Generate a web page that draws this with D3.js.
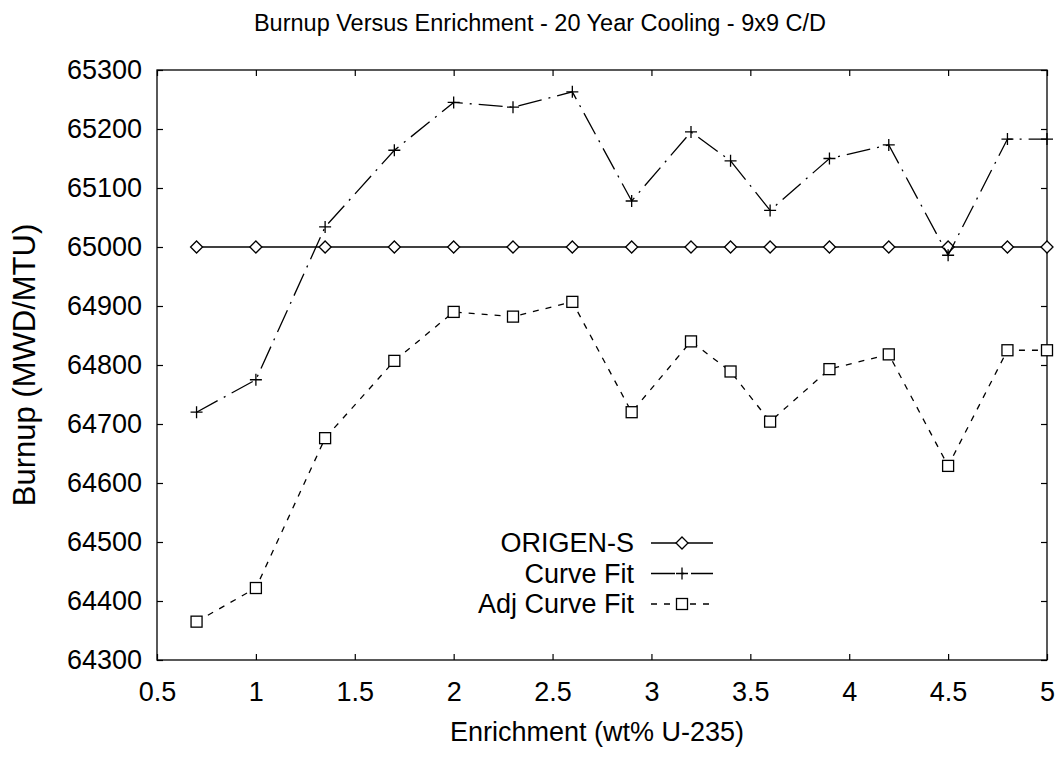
<!DOCTYPE html>
<html>
<head>
<meta charset="utf-8">
<script src="https://cdn.jsdelivr.net/npm/d3@7"></script>
<style>
  body { margin: 0; background: #fff; }
  svg text { font-family: "Liberation Sans", Arial, sans-serif; fill: #000; }
</style>
</head>
<body>
<svg id="chart" width="1062" height="757"></svg>
<script>
const enrichment = [0.7, 1.0, 1.35, 1.7, 2.0, 2.3, 2.6, 2.9, 3.2, 3.4, 3.6, 3.9, 4.2, 4.5, 4.8, 5.0];
const origenS   = [65000, 65000, 65000, 65000, 65000, 65000, 65000, 65000, 65000, 65000, 65000, 65000, 65000, 65000, 65000, 65000];
const curveFit  = [64720, 64775, 65034, 65164, 65245, 65237, 65263, 65078, 65195, 65146, 65062, 65150, 65173, 64986, 65183, 65183];
const adjCurveFit = [64365, 64422, 64676, 64807, 64890, 64882, 64907, 64720, 64840, 64789, 64704, 64793, 64818, 64629, 64825, 64825];
const xTicks = [0.5, 1, 1.5, 2, 2.5, 3, 3.5, 4, 4.5, 5];
const yTicks = [64300, 64400, 64500, 64600, 64700, 64800, 64900, 65000, 65100, 65200, 65300];
const seriesNames = ["ORIGEN-S", "Curve Fit", "Adj Curve Fit"];
const titleText = "Burnup Versus Enrichment - 20 Year Cooling - 9x9 C/D";
const xLabel = "Enrichment (wt% U-235)";
const yLabel = "Burnup (MWD/MTU)";

const svg = d3.select("#chart");
const m = { left: 157, right: 1047, top: 70, bottom: 660 };
const x = d3.scaleLinear().domain([0.5, 5]).range([m.left, m.right]);
const y = d3.scaleLinear().domain([64300, 65300]).range([m.bottom, m.top]);

// frame
svg.append("rect").attr("x", m.left).attr("y", m.top)
  .attr("width", m.right - m.left).attr("height", m.bottom - m.top)
  .attr("fill", "none").attr("stroke", "#000").attr("stroke-width", 1.3);

// axes (ticks inward)
const tl = 6;
const axB = svg.append("g").attr("transform", `translate(0,${m.bottom})`)
  .call(d3.axisBottom(x).tickValues(xTicks).tickSize(-tl).tickPadding(22).tickFormat(d3.format("")));
const axL = svg.append("g").attr("transform", `translate(${m.left},0)`)
  .call(d3.axisLeft(y).tickValues(yTicks).tickSize(-tl).tickPadding(15).tickFormat(d3.format("")));
const axT = svg.append("g").attr("transform", `translate(0,${m.top})`)
  .call(d3.axisTop(x).tickValues(xTicks).tickSize(-tl).tickFormat(""));
const axR = svg.append("g").attr("transform", `translate(${m.right},0)`)
  .call(d3.axisRight(y).tickValues(yTicks).tickSize(-tl).tickFormat(""));
[axB, axL, axT, axR].forEach(a => {
  a.select(".domain").remove();
  a.selectAll("line").attr("stroke", "#000").attr("stroke-width", 1.2);
  a.selectAll("text").style("font-family", '"Liberation Sans", Arial, sans-serif')
    .style("font-size", "27px").attr("fill", "#000");
});

const line = d3.line().x((d, i) => x(enrichment[i])).y(d => y(d));
const styles = [
  { data: origenS, dash: null, marker: "diamond" },
  { data: curveFit, dash: "24,7,2,7", marker: "plus" },
  { data: adjCurveFit, dash: "6,7", marker: "square" }
];

function drawMarker(g, type, cx, cy) {
  if (type === "diamond") {
    g.append("path").attr("d", `M${cx},${cy-6}L${cx+6},${cy}L${cx},${cy+6}L${cx-6},${cy}Z`)
      .attr("fill", "#fff").attr("stroke", "#000").attr("stroke-width", 1.3);
  } else if (type === "plus") {
    g.append("path").attr("d", `M${cx-6},${cy}H${cx+6}M${cx},${cy-6}V${cy+6}`)
      .attr("stroke", "#000").attr("stroke-width", 1.3);
  } else {
    g.append("rect").attr("x", cx - 5.5).attr("y", cy - 5.5).attr("width", 11).attr("height", 11)
      .attr("fill", "#fff").attr("stroke", "#000").attr("stroke-width", 1.3);
  }
}

styles.forEach(s => {
  svg.append("path").datum(s.data).attr("d", line)
    .attr("fill", "none").attr("stroke", "#000").attr("stroke-width", 1.3)
    .attr("stroke-dasharray", s.dash);
  const g = svg.append("g");
  s.data.forEach((v, i) => drawMarker(g, s.marker, x(enrichment[i]), y(v)));
});

// legend
const legY = [543, 573.5, 604];
seriesNames.forEach((name, i) => {
  svg.append("text").attr("x", 634).attr("y", legY[i]).attr("dy", "0.35em")
    .attr("text-anchor", "end").style("font-size", "27px").text(name);
  svg.append("line").attr("x1", 651).attr("x2", 713).attr("y1", legY[i]).attr("y2", legY[i])
    .attr("stroke", "#000").attr("stroke-width", 1.3).attr("stroke-dasharray", styles[i].dash);
  drawMarker(svg, styles[i].marker, 682, legY[i]);
});

// title and labels
svg.append("text").attr("x", 540).attr("y", 31).attr("text-anchor", "middle")
  .style("font-size", "23.5px").text(titleText);
svg.append("text").attr("x", 597).attr("y", 741).attr("text-anchor", "middle")
  .style("font-size", "27px").text(xLabel);
svg.append("text").attr("transform", "translate(35,365) rotate(-90)").attr("text-anchor", "middle")
  .style("font-size", "31px").text(yLabel);
</script>
</body>
</html>
